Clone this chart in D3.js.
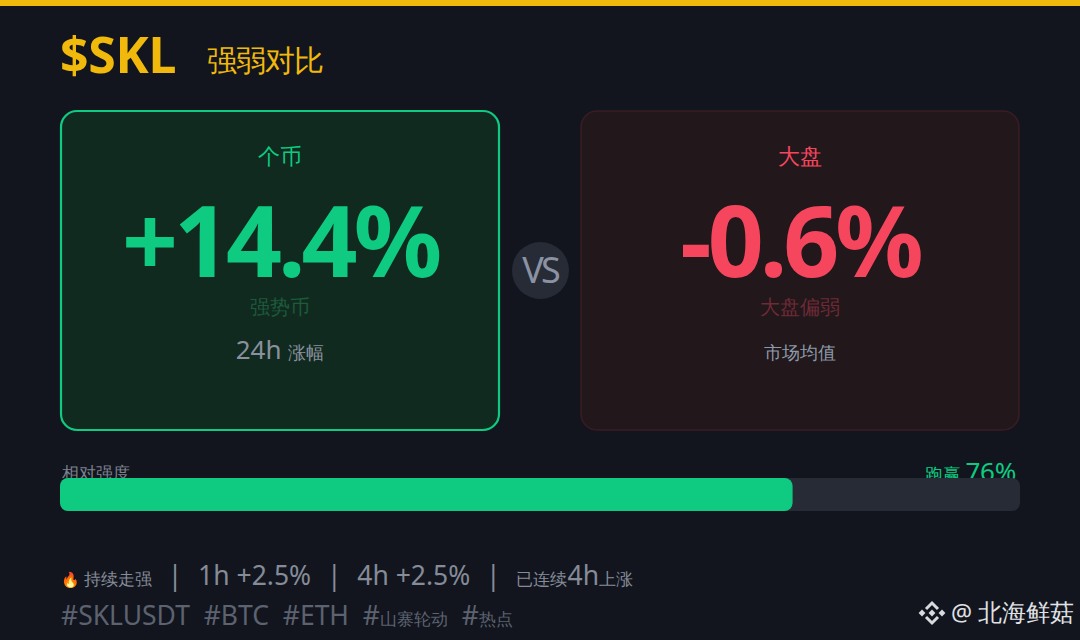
<!DOCTYPE html>
<html><head><meta charset="utf-8">
<script src="https://cdn.jsdelivr.net/npm/d3@7/dist/d3.min.js"></script>
<style>
html,body{margin:0;padding:0;background:#12151d;}
svg{display:block;}
text{font-family:"Noto Sans","Open Sans",sans-serif;}
</style></head>
<body>
<svg id="c" width="1080" height="640"></svg>
<script>
// ---- data ----
const symbol = "$SKL";
const titleText = "强弱对比";
const cardNames = ["个币", "大盘"];
const cardValues = [14.4, -0.6];
const cardTags = ["强势币", "大盘偏弱"];
const cardCaptionNums = ["24h ", ""];
const cardCaptions = ["涨幅", "市场均值"];
const strengthLabel = "相对强度";
const strengthName = "跑赢";
const strengthValue = 76;
const trendIcon = "🔥";
const trendLabel = "持续走强";
const frames = ["1h", "4h"];
const frameValues = [2.5, 2.5];
const trendNotePre = "已连续";
const trendNoteFrame = "4h";
const trendNotePost = "上涨";
const tags = ["SKLUSDT", "BTC", "ETH", "山寨轮动", "热点"];
const watermark = "@ 北海鲜菇";

const svg = d3.select("#c");
const W = 1080, H = 640;
const GREEN = "#0ecb81", RED = "#f6465d", YEL = "#f0b90b";
const CJK = 16.5; // size for CJK runs inside 26px lines
const FS = 26.5;

svg.append("rect").attr("width", W).attr("height", H).attr("fill", "#12151d");
svg.append("rect").attr("width", W).attr("height", 6).attr("fill", YEL);

// title
const title = svg.append("text").attr("x", 60).attr("y", 73).attr("fill", YEL)
  .attr("font-weight", 700);
title.append("tspan").attr("font-size", 50).attr("letter-spacing", -0.3).text(symbol);
title.append("tspan").attr("x", 207).attr("y", 71).attr("font-size", 30).attr("font-weight", 400)
  .attr("letter-spacing", -1).text(titleText);

// cards
const xCard = d3.scaleBand().domain(cardNames).range([60, 1020]).paddingInner(80 / 520);
const fmtPct = v => (v > 0 ? "+" : "-") + Math.abs(v).toFixed(1) + "%";
const styles = [
  {fill: "#102a20", stroke: GREEN, sw: 2.2, main: GREEN, tag: "#1d5a3b", cap: "#8a909c"},
  {fill: "#22171b", stroke: "#3b1c24", sw: 1.5, main: RED, tag: "#6e2a35", cap: "#8c99a8"}
];
cardNames.forEach((name, i) => {
  const x0 = xCard(name), w = xCard.bandwidth(), cx = x0 + w / 2, s = styles[i];
  const g = svg.append("g");
  g.append("rect").attr("x", x0 + 1).attr("y", 111).attr("width", w - 2).attr("height", 319)
    .attr("rx", 16).attr("fill", s.fill).attr("stroke", s.stroke).attr("stroke-width", s.sw);
  g.append("text").attr("x", cx).attr("y", 164).attr("text-anchor", "middle")
    .attr("font-size", 22).attr("fill", s.main).text(name);
  g.append("text").attr("x", cx).attr("y", 277).attr("text-anchor", "middle")
    .attr("font-size", 98).attr("font-weight", 700).attr("letter-spacing", -4)
    .attr("fill", s.main).text(fmtPct(cardValues[i]));
  g.append("text").attr("x", cx).attr("y", 314).attr("text-anchor", "middle")
    .attr("font-size", 20).attr("fill", s.tag).text(cardTags[i]);
  const cap = g.append("text").attr("x", cx).attr("y", 359).attr("text-anchor", "middle")
    .attr("fill", s.cap);
  if (cardCaptionNums[i]) cap.append("tspan").attr("font-size", 26).text(cardCaptionNums[i]);
  cap.append("tspan").attr("font-size", 18).text(cardCaptions[i]);
});

// VS badge
svg.append("circle").attr("cx", 540.5).attr("cy", 270.5).attr("r", 28.5).attr("fill", "#262b36");
svg.append("text").attr("x", 540).attr("y", 283).attr("text-anchor", "middle")
  .attr("font-size", 36).attr("letter-spacing", -3).attr("fill", "#8a92a3").text("VS");

// strength bar
const xs = d3.scaleLinear().domain([0, 100]).range([60, 1020]);
svg.append("text").attr("x", 62).attr("y", 479).attr("font-size", 16.5).attr("fill", "#7c8290").text(strengthLabel);
const sr = svg.append("text").attr("x", 1016).attr("y", 481).attr("text-anchor", "end").attr("fill", GREEN);
sr.append("tspan").attr("font-size", 17.5).text(strengthName + " ");
sr.append("tspan").attr("font-size", 26).attr("letter-spacing", -0.3).text(strengthValue + "%");
svg.append("rect").attr("x", xs(0)).attr("y", 478).attr("width", xs(100) - xs(0)).attr("height", 33)
  .attr("rx", 8).attr("fill", "#262b35");
svg.append("rect").attr("x", xs(0)).attr("y", 478).attr("width", xs(strengthValue) - xs(0) + 3).attr("height", 33)
  .attr("rx", 8).attr("fill", GREEN);

// footer
const f1 = svg.append("text").attr("x", 61).attr("y", 585).attr("font-size", FS).attr("fill", "#858b98");
const sep = () => {
  f1.append("tspan").attr("dx", 2).text("\u00a0\u00a0|");
  f1.append("tspan").attr("dx", 2).text("\u00a0\u00a0");
};
f1.append("tspan").attr("font-size", 15).text(trendIcon + "\u00a0");
f1.append("tspan").attr("font-size", CJK).text(trendLabel);
frames.forEach((fr, i) => {
  sep();
  f1.append("tspan").text(fr + " +" + frameValues[i].toFixed(1) + "%");
});
sep();
f1.append("tspan").attr("font-size", CJK).text(trendNotePre);
f1.append("tspan").text(trendNoteFrame);
f1.append("tspan").attr("font-size", CJK).text(trendNotePost);

const f2 = svg.append("text").attr("x", 61).attr("y", 625).attr("font-size", FS).attr("fill", "#5c6270");
tags.forEach((t, i) => {
  f2.append("tspan").text((i ? "\u00a0\u00a0" : "") + "#");
  const cjk = /[\u4e00-\u9fff]/.test(t);
  f2.append("tspan").attr("font-size", cjk ? 17 : FS).text(t);
});

// watermark
const wm = svg.append("g").attr("transform", "translate(932,613)").attr("fill", "none")
  .attr("stroke", "#d8dade").attr("stroke-width", 3);
[[-10,0],[10,0],[0,0]].forEach(([dx,dy]) => {
  svg.append("rect").attr("x", 932 + dx - 2.4).attr("y", 613 + dy - 2.4).attr("width", 4.8).attr("height", 4.8)
    .attr("transform", `rotate(45 ${932+dx} ${613+dy})`).attr("fill", "#d8dade");
});
wm.append("polyline").attr("points", "-6,-4 0,-10 6,-4");
wm.append("polyline").attr("points", "-6,4 0,10 6,4");
svg.append("text").attr("x", 951).attr("y", 621).attr("font-size", 23.5).attr("fill", "#e0e2e6")
  .attr("font-family", "Noto Sans CJK SC").text(watermark);
</script>
</body></html>
